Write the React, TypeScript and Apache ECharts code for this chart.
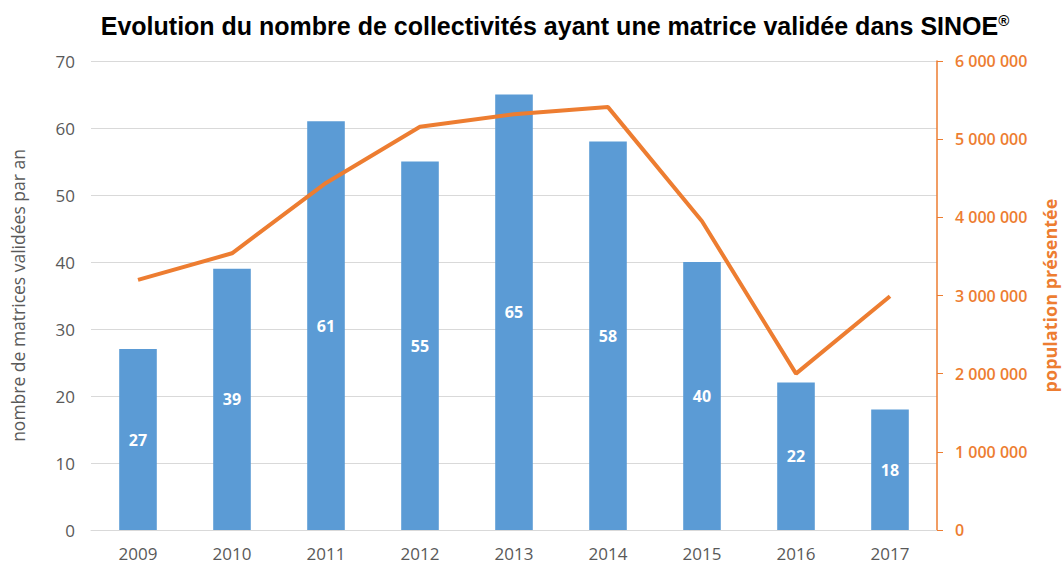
import React, { useEffect, useRef } from "react";
import * as echarts from "echarts";

const years = ["2009", "2010", "2011", "2012", "2013", "2014", "2015", "2016", "2017"];
const matrices = [27, 39, 61, 55, 65, 58, 40, 22, 18];
const population = [3200000, 3540000, 4440000, 5160000, 5320000, 5410000, 3950000, 2000000, 2990000];

const titleText = "Evolution du nombre de collectivités ayant une matrice validée dans SINOE";
const leftName = "nombre de matrices validées par an";
const rightName = "population présentée";

const fmtSpace = (v: number) => String(v).replace(/\B(?=(\d{3})+(?!\d))/g, " ");

export default function App() {
  const ref = useRef<HTMLDivElement>(null);
  useEffect(() => {
    if (!ref.current) return;
    const chart = echarts.init(ref.current, null, { renderer: "svg" });
    const font = "'Open Sans', sans-serif";
    chart.setOption({
      animation: false,
      backgroundColor: "#ffffff",
      title: {
        text: "{t|" + titleText + "}{s|®}",
        left: 550,
        textAlign: "center",
        top: 8,
        textStyle: {
          rich: {
            t: { fontFamily: "'Liberation Sans', Arial, sans-serif", fontWeight: "bold", fontSize: 25, color: "#000000" },
            s: { fontFamily: "'Liberation Sans', Arial, sans-serif", fontWeight: "bold", fontSize: 15, color: "#000000", verticalAlign: "top", padding: [0, 0, 10, 0] },
          },
        },
      },
      grid: { left: 91, right: 125, top: 61, bottom: 35, containLabel: false, outerBoundsMode: "none" },
      xAxis: {
        type: "category",
        data: years,
        axisLine: { show: true, lineStyle: { color: "#d9d9d9", width: 1 } },
        axisTick: { show: false },
        axisLabel: { color: "#595959", fontSize: 17, fontFamily: font, margin: 15 },
      },
      yAxis: [
        {
          type: "value",
          min: 0,
          max: 70,
          interval: 10,
          position: "left",
          name: leftName,
          nameLocation: "middle",
          nameRotate: 90,
          nameGap: 64,
          nameTextStyle: { color: "#595959", fontSize: 17.5, fontFamily: font },
          axisLine: { show: false },
          axisTick: { show: false },
          axisLabel: { color: "#595959", fontSize: 17, fontFamily: font, margin: 16 },
          splitLine: { lineStyle: { color: "#d9d9d9", width: 1 } },
        },
        {
          type: "value",
          min: 0,
          max: 6000000,
          interval: 1000000,
          position: "right",
          name: rightName,
          nameLocation: "middle",
          nameRotate: 90,
          nameGap: 104,
          nameTextStyle: { color: "#ED7D31", fontSize: 18, fontWeight: "bold", fontFamily: font },
          axisLine: { show: true, lineStyle: { color: "#ED7D31", width: 1.5 } },
          axisTick: { show: true, length: 6, lineStyle: { color: "#ED7D31" } },
          axisLabel: { color: "#ED7D31", fontSize: 16, fontWeight: 600, fontFamily: font, margin: 18, formatter: (v: number) => fmtSpace(v) },
          splitLine: { show: false },
        },
      ],
      series: [
        {
          type: "bar",
          data: matrices,
          yAxisIndex: 0,
          barWidth: "40%",
          itemStyle: { color: "#5B9BD5" },
          label: { show: true, position: "inside", color: "#ffffff", fontWeight: "bold", fontSize: 16, fontFamily: font },
        },
        {
          type: "line",
          data: population,
          yAxisIndex: 1,
          symbol: "none",
          lineStyle: { color: "#ED7D31", width: 4 },
          itemStyle: { color: "#ED7D31" },
        },
      ],
    });
    return () => chart.dispose();
  }, []);
  return <div ref={ref} style={{ position: "absolute", left: 0, top: 0, width: 1062, height: 565 }} />;
}
